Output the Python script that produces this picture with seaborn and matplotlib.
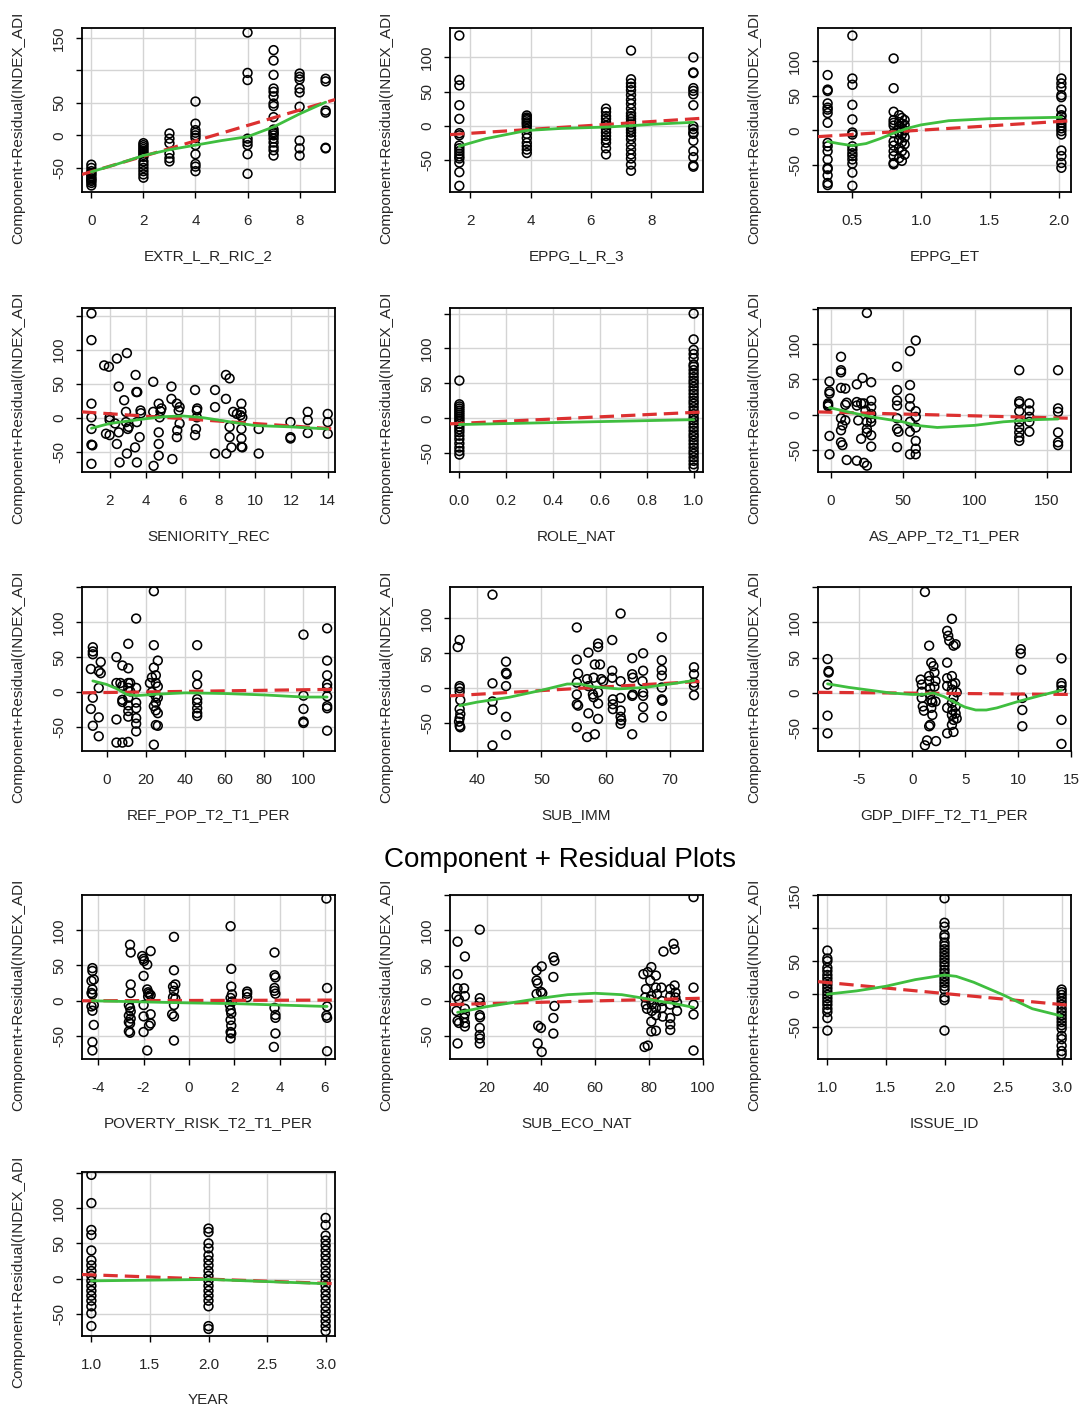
import matplotlib
matplotlib.use("Agg")
import matplotlib.pyplot as plt
import seaborn as sns

# ---------------------------------------------------------------------------
# Component + residual values for each predictor.
# Clustered predictors are given as {x value: [component+residual values]},
# the others as (x, y) pairs.
# ---------------------------------------------------------------------------
extr_l_r_ric_2 = {
    0: [-45, -50, -55, -58, -60, -63, -66, -68, -70, -73, -77],
    2: [-12, -15, -18, -21, -24, -27, -30, -33, -40, -45, -50, -55, -60, -65],
    3: [3, -5, -12, -28, -35, -40],
    4: [52, 18, 8, 4, 0, -4, -15, -29, -44, -48, -55],
    6: [158, 96, 85, -5, -10, -15, -29, -59],
    7: [131, 115, 93, 72, 67, 60, 49, 45, 28, 9, 5, 3, 0, -5, -11, -18, -23, -31],
    8: [95, 90, 86, 72, 66, 44, -8, -20, -31],
    9: [87, 83, 38, 35, -19, -20],
}

eppg_l_r_3 = {
    1.63: [132, 67, 59, 30, 10, -11, -14, -29, -33, -37, -41, -45, -48, -54, -68, -88],
    3.87: [15, 12, 10, 8, 5, 3, 0, -5, -12, -18, -25, -30, -35, -40],
    6.5: [25, 20, 14, 10, 5, 0, -5, -10, -15, -20, -25, -33, -42],
    7.33: [110, 68, 62, 57, 52, 45, 38, 32, 25, 18, 14, 10, 6, 2, -2, -6, -10,
           -15, -20, -28, -35, -42, -48, -57, -66],
    9.4: [100, 78, 77, 55, 51, 46, 30, -1, -5, -10, -12, -22, -37, -46, -58, -60],
}

eppg_et = {
    0.32: [80, 59, 57, 39, 33, 30, 25, 11, -18, -23, -30, -42, -54, -56, -65, -76, -79],
    0.5: [137, 75, 66, 37, 16, -3, -6, -23, -28, -33, -37, -42, -48, -61, -80],
    0.80: [104, 61, 27, 15, 11, 7, -4, -16, -22, -30, -37, -47, -49],
    0.84: [22, 12, 5, -3, -13, -25, -40],
    0.86: [18, 10, 3, -6, -17, -30, -44],
    0.88: [15, 8, 0, -10, -20, -35],
    2.02: [75, 68, 62, 51, 48, 30, 22, 20, 15, 11, 7, 3, -1, -6, -29, -37, -47, -54],
}

seniority_rec = [
    (1.0, 153), (1.0, 114), (1.0, 21), (1.0, 1), (1.0, -16), (1.0, -39), (1.05, -40),
    (1.0, -67), (1.7, 77), (1.96, 75), (1.8, -23), (2.0, -25), (2.0, -3), (2.0, 1),
    (2.3, -8), (2.4, 87), (2.5, -21), (2.4, -38), (2.5, 46), (2.55, -65), (2.8, 26),
    (2.9, 9), (2.9, -6), (2.95, 95), (3.0, -16), (2.95, -52), (3.05, -13), (3.43, 63),
    (3.47, 38), (3.52, 38), (3.4, -43), (3.5, -6), (3.5, -65), (3.7, 11), (3.72, 7),
    (3.65, -28), (4.4, 9), (4.4, 53), (4.42, -70), (4.7, 21), (4.7, -21), (4.7, -38),
    (4.7, -55), (4.8, 10), (4.85, 14), (4.75, 1), (5.4, 46), (5.4, 28), (5.45, -60),
    (5.7, 21), (5.7, -28), (5.72, -18), (5.8, 11), (5.85, 16), (5.85, -8), (6.7, 41),
    (6.8, 11), (6.82, 14), (6.8, 1), (6.75, -16), (6.7, -25), (7.8, 41), (7.8, 16),
    (7.8, -52), (8.4, 63), (8.6, 58), (8.4, 28), (8.42, -52), (8.6, -13), (8.6, -28),
    (8.7, -43), (8.8, 9), (9.0, 6), (9.2, 4), (9.25, 21), (9.25, 9), (9.25, -16),
    (9.25, -30), (9.25, -42), (9.3, 1), (9.3, -43), (10.2, -16), (10.2, -52),
    (11.95, -6), (11.95, -28), (11.95, -30), (12.9, 9), (12.9, -3), (12.9, -22),
    (14.0, 6), (14.0, -6), (14.0, -23),
]

role_nat = {
    0: [54, 20, 17, 14, 11, 8, 5, 2, -1, -4, -8, -12, -16, -20, -25, -30, -36,
        -42, -47, -52],
    1: [150, 113, 98, 92, 86, 77, 74, 69, 64, 59, 54, 50, 45, 40, 35, 30, 25, 21,
        16, 11, 6, 1, -3, -8, -13, -18, -23, -27, -32, -37, -42, -47, -51, -56,
        -61, -66, -71],
}

as_app_t2_t1_per = [
    (-1, 47), (-1, 33), (-1, 30), (-2, 16), (-2, 12), (-1, -30), (-1, -56), (-2, 14),
    (7, 82), (7, 63), (7, 60), (7, 38), (7, -5), (7, -22), (8, -15), (7, -39), (8, -43),
    (10, 37), (11, 17), (10, 14), (10, -8), (11, -64), (18, 43), (18, 18), (18, 13),
    (19, -8), (18, -65), (21, 16), (23, -68), (23, 16), (22, 52), (21, -34), (24, 6),
    (25, -20), (25, 144), (25, -72), (25, -10), (25, -25), (28, 46), (28, 20), (28, 11),
    (28, 1), (28, -5), (28, -10), (28, -29), (28, -45), (46, 68), (46, 35), (46, 20),
    (46, 13), (46, -5), (46, -20), (47, -24), (46, -46), (55, 90), (55, 42), (55, 23),
    (55, 12), (55, -10), (55, -24), (55, -56), (59, 105), (59, 5), (59, -3), (59, -18),
    (59, -37), (59, -48), (59, -56), (131, 63), (131, 19), (131, 16), (131, 5),
    (131, -10), (131, -18), (131, -25), (131, -32), (131, -37), (138, 16), (138, 6),
    (138, -3), (138, -10), (138, -24), (158, 63), (158, 9), (158, 4), (158, -25),
    (158, -39), (158, -43),
]

ref_pop_t2_t1_per = [
    (-7, 64), (-7, 58), (-7, 54), (-8, 33), (-7, -8), (-8, -24), (-7, -48), (-4, 30),
    (-3, 27), (-3, 43), (-4, 6), (-4, -36), (-4, -63), (5, 50), (5, 13), (5, -39),
    (5, -72), (8, 38), (7, 13), (8, 9), (8, -11), (8, -14), (8, -72), (11, 69), (11, 34),
    (11, 13), (11, 6), (11, -8), (11, -19), (11, -27), (11, -35), (11, -71), (12, 13),
    (12, 1), (15, 105), (15, 6), (15, -15), (15, -23), (15, -37), (15, -45), (15, -56),
    (22, 13), (23, 21), (23, 0), (24, -20), (24, 144), (24, 67), (24, 35), (25, 24),
    (25, 13), (25, -6), (25, -15), (25, -26), (25, -47), (24, -75), (26, 45), (26, 8),
    (26, -8), (26, -30), (26, -48), (46, 67), (46, 24), (46, 11), (46, -10), (46, -15),
    (46, -23), (46, -30), (46, -34), (100, 82), (100, -5), (100, -24), (100, -42),
    (100, -44), (112, 91), (112, 45), (112, 24), (112, 11), (112, 6), (112, -6),
    (112, -20), (112, -23), (112, -55),
]

sub_imm = [
    (37.3, 69), (37.0, 59), (37.3, 3), (37.3, 0), (37.3, -5), (37.4, -17), (37.3, -30),
    (37.4, -37), (37.3, -43), (37.2, -48), (37.3, -54), (37.4, -56), (42.4, 134),
    (42.4, 7), (42.4, -19), (42.4, -31), (42.4, -82), (44.5, 38), (44.5, 22), (44.6, 20),
    (44.5, 3), (44.5, -41), (44.5, -67), (55.5, 87), (55.5, 41), (55.7, 21), (55.5, 8),
    (55.5, -9), (55.5, -23), (55.7, -25), (55.5, -56), (57.3, 51), (57.1, 13), (57.3, 3),
    (57.3, -36), (57.1, -70), (58.1, 15), (58.0, -9), (58.1, -13), (58.3, 34),
    (58.3, -66), (58.8, 59), (58.8, 64), (59.1, 34), (58.8, -6), (58.8, -22), (58.8, -44),
    (59.3, 13), (59.6, 10), (61.0, 69), (61.0, 25), (61.0, 15), (61.1, -16), (61.1, -23),
    (61.1, -30), (62.3, 107), (62.3, 10), (62.3, -14), (62.3, -32), (62.3, -41),
    (62.3, -51), (62.4, -46), (64.1, 43), (64.1, 20), (64.2, 15), (64.2, -9), (64.1, -11),
    (64.1, -66), (65.8, 50), (65.8, 25), (65.7, 10), (65.8, -6), (65.8, -11), (65.8, -27),
    (65.8, -42), (68.7, 73), (68.7, 40), (68.7, 26), (68.7, 18), (68.7, 1), (68.7, -16),
    (68.8, -18), (68.7, -40), (73.7, 30), (73.7, 20), (73.7, 8), (73.7, 3), (73.7, -10),
]

gdp_diff_t2_t1_per = [
    (-8.0, 48), (-7.9, 31), (-7.9, 29), (-8.0, 12), (-8.0, -32), (-8.0, -57), (1.2, 143),
    (0.8, 19), (0.9, 12), (0.9, 2), (0.9, -7), (1.0, -19), (1.1, -25), (1.2, -74),
    (1.4, -67), (1.6, 24), (1.6, 67), (1.6, 17), (1.7, 7), (1.7, -2), (1.8, -10),
    (1.8, -21), (1.9, -31), (1.7, -45), (1.6, -47), (1.8, 43), (2.0, 38), (2.1, 29),
    (2.2, 17), (2.1, 9), (2.2, -12), (2.25, -68), (1.9, -13), (3.3, 88), (3.4, 81),
    (3.3, 43), (3.3, 21), (3.3, 10), (3.3, -21), (3.3, -57), (3.5, 74), (3.75, 105),
    (3.9, 67), (4.1, 69), (3.75, 24), (3.8, 12), (3.75, 5), (3.9, -7), (3.75, -14),
    (3.8, -24), (3.75, -31), (3.9, -38), (3.75, -45), (3.9, -55), (4.06, 14), (4.1, -19),
    (4.1, -29), (4.2, -36), (4.2, 1), (10.25, 62), (10.25, 56), (10.3, 33), (10.4, -7),
    (10.4, -24), (10.4, -47), (14.1, 49), (14.1, 14), (14.1, 10), (14.1, 4), (14.1, -38),
    (14.1, -72),
]

poverty_risk_t2_t1_per = [
    (-4.26, 46), (-4.26, 42), (-4.2, 30), (-4.3, 28), (-4.26, 16), (-4.3, 11), (-4.26, 9),
    (-4.2, -6), (-4.3, -8), (-4.26, -14), (-4.2, -34), (-4.26, -58), (-4.26, -70),
    (-2.6, 79), (-2.57, 68), (-2.57, 23), (-2.57, 11), (-2.65, -6), (-2.6, -10),
    (-2.57, -15), (-2.65, -21), (-2.57, -25), (-2.65, -30), (-2.6, -32), (-2.65, -43),
    (-2.6, -45), (-2.06, 63), (-2.0, 59), (-1.98, 56), (-2.0, 35), (-2.0, -6), (-2.0, -22),
    (-2.0, -44), (-1.84, 51), (-1.69, 70), (-1.84, 16), (-1.8, 12), (-1.76, 10),
    (-1.8, 6), (-1.69, 8), (-1.69, -19), (-1.69, -32), (-1.76, -35), (-1.84, -70),
    (-0.66, 90), (-0.66, 43), (-0.7, 20), (-0.66, 14), (-0.7, 5), (-0.66, -6),
    (-0.74, -19), (-0.66, -22), (-0.66, -56), (-0.6, 23), (-0.6, 3), (1.84, 105),
    (1.87, 45), (1.87, 20), (1.9, 9), (1.84, 4), (1.9, -1), (1.81, -6), (1.84, -13),
    (1.87, -18), (1.84, -27), (1.87, -35), (1.84, -44), (1.87, -46), (1.84, -53),
    (2.57, 13), (2.57, 10), (2.57, 5), (3.78, 68), (3.78, 36), (3.82, 33), (3.78, 18),
    (3.78, 14), (3.82, 10), (3.78, -10), (3.82, -20), (3.82, -24), (3.82, -46),
    (3.75, -65), (6.07, 144), (6.1, 18), (6.1, -8), (6.07, -21), (6.1, -24), (6.1, -71),
]

sub_eco_nat = [
    (9.3, 84), (9.3, 38), (9.3, 18), (8.9, 7), (9.8, 2), (8.9, -14), (9.3, -28), (9.8, -31),
    (9.3, -60), (12.0, 63), (11.7, 18), (12.0, 7), (12.0, -11), (12.0, -18), (11.7, -24),
    (12.0, -31), (12.0, -36), (17.5, 101), (17.5, 4), (17.5, -2), (17.5, -20), (17.6, -23),
    (17.5, -38), (17.5, -48), (17.5, -53), (17.5, -60), (38.5, 43), (38.5, 29), (38.9, 25),
    (38.5, 10), (39.1, -35), (38.9, -60), (40.4, 49), (40.1, 13), (40.6, 11), (40.1, -38),
    (40.4, -72), (44.7, 62), (45.1, 57), (44.7, 34), (45.1, -7), (44.7, -24), (44.7, -46),
    (78.0, 38), (78.4, -65), (79.6, -63), (79.6, 41), (78.9, 17), (78.6, 5), (78.9, -5),
    (79.3, -11), (80.9, 48), (80.5, 29), (80.9, 7), (80.5, 2), (81.1, -5), (81.1, -14),
    (80.9, -29), (80.9, -43), (82.6, 36), (82.6, 19), (83.0, 10), (82.6, -10), (82.6, -20),
    (82.6, -42), (85.4, 70), (84.6, 19), (84.8, 0), (84.8, -10), (85.1, -22), (89.1, 81),
    (89.5, 73), (87.9, 17), (87.9, 7), (87.9, -5), (87.9, -24), (87.9, -33), (87.9, -41),
    (89.5, 22), (89.8, 12), (89.8, 5), (90.4, -2), (90.4, -14), (96.5, 147), (96.5, 19),
    (96.5, -5), (96.5, -19), (96.5, -70),
]

issue_id = {
    1: [66, 54, 50, 40, 35, 29, 24, 19, 14, 9, 4, -1, -6, -11, -16, -22, -27, -36, -55],
    2: [145, 108, 102, 90, 86, 78, 73, 68, 63, 58, 53, 48, 43, 37, 32, 27, 22, 17, 12,
        7, -5, -9, -55],
    3: [7, 3, -1, -6, -11, -16, -22, -27, -32, -37, -42, -47, -52, -63, -68, -78, -86, -91],
}

year = {
    1: [147, 107, 69, 62, 40, 26, 19, 11, 4, -3, -10, -17, -24, -31, -39, -49, -67],
    2: [71, 66, 50, 43, 33, 26, 19, 11, 4, -3, -10, -17, -24, -31, -39, -67, -71],
    3: [86, 76, 61, 54, 47, 40, 33, 26, 19, 11, 4, -3, -10, -17, -24, -31, -39, -46,
        -53, -60, -67, -74],
}

# Component (linear) lines, given by their values at the two plot edges
fit_lines = {
    "EXTR_L_R_RIC_2": [(-0.36, -60), (9.36, 55)],
    "EPPG_L_R_3": [(1.32, -13), (9.72, 11)],
    "EPPG_ET": [(0.25, -9), (2.09, 14)],
    "SENIORITY_REC": [(0.48, 9), (14.4, -16)],
    "ROLE_NAT": [(-0.04, -8), (1.04, 9)],
    "AS_APP_T2_T1_PER": [(-9, 4), (167, -5)],
    "REF_POP_T2_T1_PER": [(-12.5, -1), (116, 4)],
    "SUB_IMM": [(35.8, -11), (75.1, 10)],
    "GDP_DIFF_T2_T1_PER": [(-8.9, 1), (15.0, -2)],
    "POVERTY_RISK_T2_T1_PER": [(-4.72, 0), (6.45, 1)],
    "SUB_ECO_NAT": [(6.5, -5), (100.0, 4)],
    "ISSUE_ID": [(0.92, 19), (3.08, -17)],
    "YEAR": [(0.92, 6), (3.08, -7)],
}

# Smoothed (loess) residual curves
smooth_lines = {
    "EXTR_L_R_RIC_2": [(0, -56), (1, -44), (2, -31), (3, -22), (4, -15), (5, -8),
                       (6, -2), (7, 13), (8, 33), (9, 51)],
    "EPPG_L_R_3": [(1.63, -30), (2.5, -19), (3.87, -7), (5, -4), (6.5, -2), (7.33, 0),
                   (8, 2), (9.4, 5)],
    "EPPG_ET": [(0.32, -16), (0.4, -19), (0.5, -22), (0.6, -19), (0.7, -12), (0.8, -4),
                (0.9, 3), (1.0, 8), (1.2, 14), (1.5, 17), (2.02, 19)],
    "SENIORITY_REC": [(1, -15), (2, -8), (4, -1), (5, 2), (6, 3), (7, 1), (8, -3),
                      (9.2, -8), (10, -11), (12, -13), (14, -16)],
    "ROLE_NAT": [(0, -9), (1, -2)],
    "AS_APP_T2_T1_PER": [(-1, 10), (12, 4), (28, -3), (50, -10), (59, -15), (74, -18),
                         (100, -15), (120, -10), (142, -7), (158, -6)],
    "REF_POP_T2_T1_PER": [(-7, 16), (0, 11), (5, 5), (10, -3), (15, -5), (25, -3),
                          (40, -1), (60, -2), (80, -4), (100, -7), (112, -7)],
    "SUB_IMM": [(37.3, -25), (40, -20), (45, -13), (50, -3), (54, 6), (56, 6), (58, 2),
                (62, -1), (66, 1), (70, 6), (73.7, 11)],
    "GDP_DIFF_T2_T1_PER": [(-8, 13), (-6, 8), (-4, 4), (-2, 0), (0, -2), (1, -2),
                           (2, 0), (3, -5), (4, -13), (5, -20), (6, -24), (7, -24),
                           (8, -21), (10, -12), (12, -4), (14.1, 4)],
    "POVERTY_RISK_T2_T1_PER": [(-4.26, 0), (0, -3), (2, -4), (4, -6), (6.1, -8)],
    "SUB_ECO_NAT": [(9.3, -16), (15, -12), (20, -8), (30, -2), (40, 4), (50, 9),
                    (60, 11), (70, 9), (78, 4), (85, -1), (90, -4), (96.5, -9)],
    "ISSUE_ID": [(1.0, 0), (1.25, 5), (1.5, 12), (1.75, 22), (2.0, 29), (2.1, 27),
                 (2.25, 18), (2.5, -1), (2.75, -22), (3.0, -33)],
    "YEAR": [(1.0, -3), (1.5, -2), (2.0, -1), (2.5, -4), (3.0, -7)],
}

# Axis limits, tick positions and tick labels
x_limits = {
    "EXTR_L_R_RIC_2": (-0.36, 9.36), "EPPG_L_R_3": (1.32, 9.72), "EPPG_ET": (0.25, 2.09),
    "SENIORITY_REC": (0.48, 14.4), "ROLE_NAT": (-0.04, 1.04),
    "AS_APP_T2_T1_PER": (-9, 167), "REF_POP_T2_T1_PER": (-12.5, 116),
    "SUB_IMM": (35.8, 75.1), "GDP_DIFF_T2_T1_PER": (-8.9, 15.0),
    "POVERTY_RISK_T2_T1_PER": (-4.72, 6.45), "SUB_ECO_NAT": (6.5, 100.0),
    "ISSUE_ID": (0.92, 3.08), "YEAR": (0.92, 3.08),
}
y_limits = {
    "EXTR_L_R_RIC_2": (-87, 165), "EPPG_L_R_3": (-97, 143), "EPPG_ET": (-89, 148),
    "SENIORITY_REC": (-79, 161), "ROLE_NAT": (-77, 158), "AS_APP_T2_T1_PER": (-81, 151),
    "REF_POP_T2_T1_PER": (-84, 150), "SUB_IMM": (-90, 145),
    "GDP_DIFF_T2_T1_PER": (-82, 150), "POVERTY_RISK_T2_T1_PER": (-82, 149),
    "SUB_ECO_NAT": (-82, 150), "ISSUE_ID": (-98, 150), "YEAR": (-81, 151),
}
x_tick_labels = {
    "EXTR_L_R_RIC_2": ["0", "2", "4", "6", "8"],
    "EPPG_L_R_3": ["2", "4", "6", "8"],
    "EPPG_ET": ["0.5", "1.0", "1.5", "2.0"],
    "SENIORITY_REC": ["2", "4", "6", "8", "10", "12", "14"],
    "ROLE_NAT": ["0.0", "0.2", "0.4", "0.6", "0.8", "1.0"],
    "AS_APP_T2_T1_PER": ["0", "50", "100", "150"],
    "REF_POP_T2_T1_PER": ["0", "20", "40", "60", "80", "100"],
    "SUB_IMM": ["40", "50", "60", "70"],
    "GDP_DIFF_T2_T1_PER": ["-5", "0", "5", "10", "15"],
    "POVERTY_RISK_T2_T1_PER": ["-4", "-2", "0", "2", "4", "6"],
    "SUB_ECO_NAT": ["20", "40", "60", "80", "100"],
    "ISSUE_ID": ["1.0", "1.5", "2.0", "2.5", "3.0"],
    "YEAR": ["1.0", "1.5", "2.0", "2.5", "3.0"],
}
y_ticks = [-50, 0, 50, 100, 150]
y_tick_labels_a = ["-50", "0", "50", "100", ""]
y_tick_labels_b = ["-50", "0", "50", "", "150"]
y_label_style = {name: y_tick_labels_a for name in x_limits}
y_label_style["EXTR_L_R_RIC_2"] = y_tick_labels_b
y_label_style["ISSUE_ID"] = y_tick_labels_b

panel_data = [
    ("EXTR_L_R_RIC_2", extr_l_r_ric_2), ("EPPG_L_R_3", eppg_l_r_3), ("EPPG_ET", eppg_et),
    ("SENIORITY_REC", seniority_rec), ("ROLE_NAT", role_nat),
    ("AS_APP_T2_T1_PER", as_app_t2_t1_per), ("REF_POP_T2_T1_PER", ref_pop_t2_t1_per),
    ("SUB_IMM", sub_imm), ("GDP_DIFF_T2_T1_PER", gdp_diff_t2_t1_per),
    ("POVERTY_RISK_T2_T1_PER", poverty_risk_t2_t1_per), ("SUB_ECO_NAT", sub_eco_nat),
    ("ISSUE_ID", issue_id), ("YEAR", year),
]


def as_xy(values):
    """Flatten either {x: [y, ...]} or [(x, y), ...] into two lists."""
    if isinstance(values, dict):
        xs, ys = [], []
        for xv, col in values.items():
            xs.extend([xv] * len(col))
            ys.extend(col)
        return xs, ys
    xs, ys = zip(*values)
    return list(xs), list(ys)


# ---------------------------------------------------------------------------
# Figure layout (pixel based, 1082 x 1409)
# ---------------------------------------------------------------------------
sns.set_theme(style="white")
plt.rcParams["font.family"] = ["Liberation Sans", "DejaVu Sans"]

W, H = 1082, 1409
BOX_W, BOX_H = 253, 164
COL_LEFT = [82, 450, 818]
ROW_TOP = [28, 308, 587, 895, 1172]
RED = "#dc3030"
GREEN = "#3fbe3f"
GRID = "#d4d4d4"
TEXT = "#262626"
FS = 11

fig = plt.figure(figsize=(W / 100, H / 100), dpi=100)
fig.patch.set_facecolor("white")

for i, (name, values) in enumerate(panel_data):
    col, row = i % 3, i // 3
    left, top = COL_LEFT[col], ROW_TOP[row]
    ax = fig.add_axes([left / W, 1 - (top + BOX_H) / H, BOX_W / W, BOX_H / H])

    xs, ys = as_xy(values)
    sns.scatterplot(x=xs, y=ys, ax=ax, marker="o", s=40, facecolor="none",
                    edgecolor="black", linewidth=1.15, zorder=3, legend=False)

    (fx0, fy0), (fx1, fy1) = fit_lines[name]
    ax.plot([fx0, fx1], [fy0, fy1], color=RED, lw=2.3, dashes=(4.5, 2.2),
            zorder=4, solid_capstyle="butt")
    gx, gy = zip(*smooth_lines[name])
    ax.plot(gx, gy, color=GREEN, lw=2.0, zorder=5)

    ax.set_xlim(*x_limits[name])
    ax.set_ylim(*y_limits[name])
    xt_labels = x_tick_labels[name]
    ax.set_xticks([float(t) for t in xt_labels])
    ax.set_xticklabels(xt_labels)
    lo, hi = y_limits[name]
    keep = [k for k, t in enumerate(y_ticks) if lo <= t <= hi]
    ax.set_yticks([y_ticks[k] for k in keep])
    ax.set_yticklabels([y_label_style[name][k] for k in keep])

    ax.grid(True, color=GRID, lw=1.0)
    ax.set_axisbelow(True)
    for sp in ax.spines.values():
        sp.set_visible(True)
        sp.set_color("black")
        sp.set_linewidth(1.3)

    ax.tick_params(axis="both", which="major", direction="out", length=4.5,
                   width=1.0, color="black", labelsize=FS, labelcolor=TEXT,
                   bottom=True, left=True)
    ax.tick_params(axis="x", pad=11)
    ax.tick_params(axis="y", pad=7, labelrotation=90)
    for lbl in ax.get_yticklabels():
        lbl.set_va("center")

    ax.set_xlabel(name, fontsize=FS, color=TEXT)
    ax.xaxis.set_label_coords(0.5, -64 / BOX_H)
    ax.xaxis.label.set_va("center")

    fig.text((left - 64) / W, 1 - (top + BOX_H + 52) / H,
             "Component+Residual(INDEX_ADI", rotation=90, ha="center",
             va="bottom", fontsize=FS, color=TEXT)

fig.text(560 / W, 1 - 860 / H, "Component + Residual Plots", ha="center",
         va="center", fontsize=20, color="black")

fig.savefig("out.png", dpi=100, facecolor="white")
